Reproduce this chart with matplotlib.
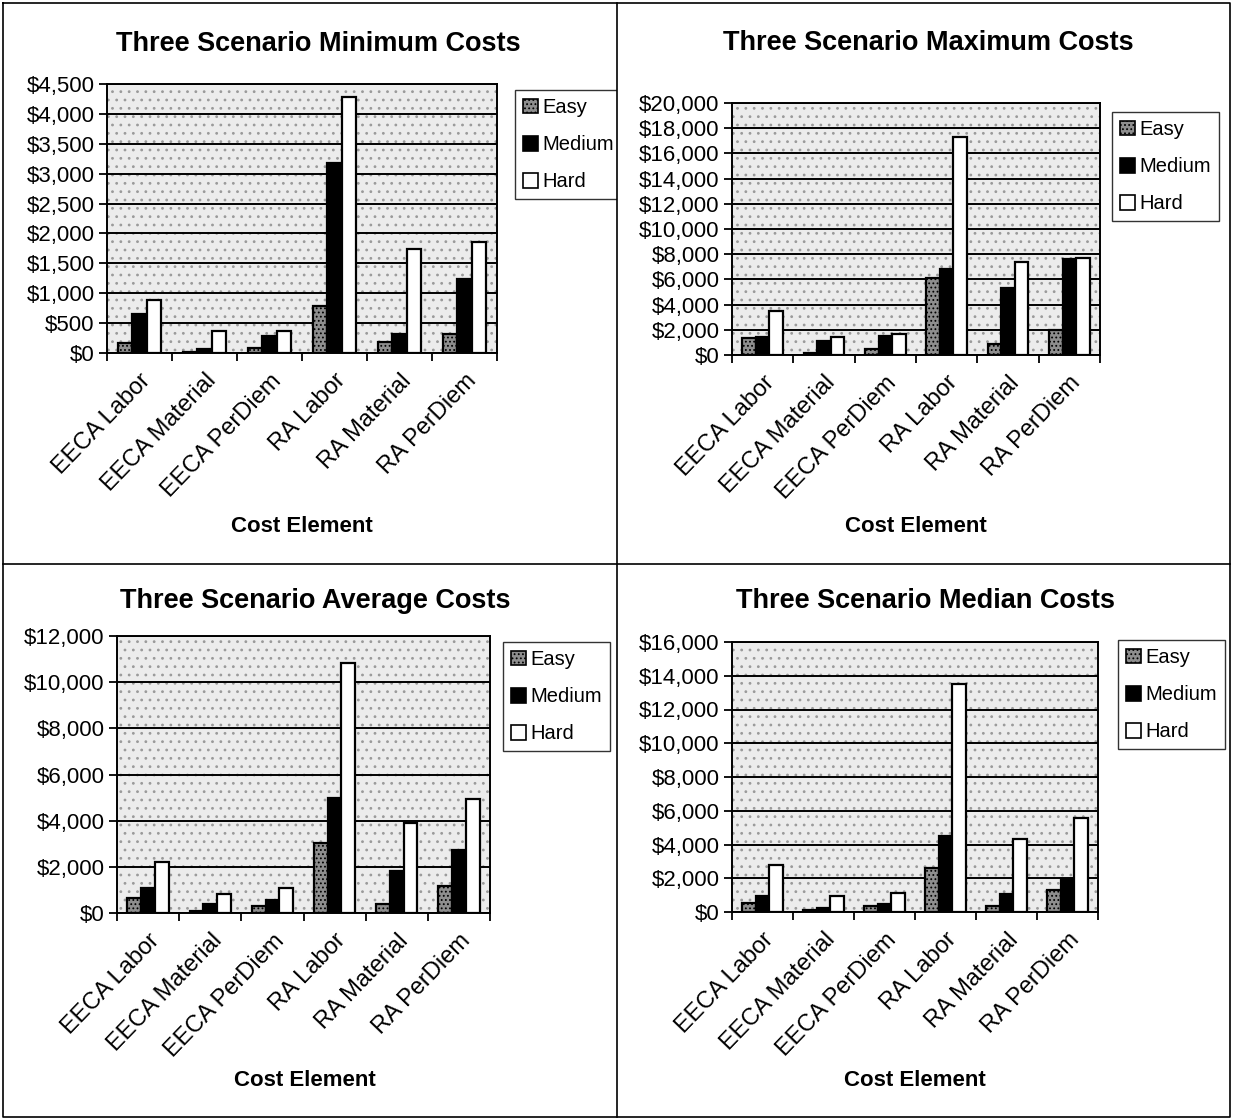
import numpy as np
import matplotlib
matplotlib.use('Agg')
import matplotlib.pyplot as plt
from matplotlib.patches import Rectangle, Patch
from matplotlib.ticker import FuncFormatter, FixedLocator
from matplotlib.transforms import ScaledTranslation

plt.rcParams['font.family'] = ['Liberation Sans', 'DejaVu Sans']
plt.rcParams['hatch.linewidth'] = 0.8

categories = ['EECA Labor', 'EECA Material', 'EECA PerDiem', 'RA Labor', 'RA Material', 'RA PerDiem']
scenarios = ['Easy', 'Medium', 'Hard']

# values (dollars)
min_easy = [170, 25, 80, 780, 180, 320]
min_medium = [660, 65, 280, 3180, 320, 1230]
min_hard = [880, 370, 370, 4280, 1740, 1860]

max_easy = [1320, 160, 450, 6090, 870, 1990]
max_medium = [1400, 1140, 1540, 6800, 5300, 7600]
max_hard = [3520, 1460, 1670, 17270, 7420, 7680]

avg_easy = [630, 100, 290, 3030, 400, 1150]
avg_medium = [1070, 400, 580, 4970, 1800, 2710]
avg_hard = [2190, 840, 1080, 10810, 3920, 4930]

med_easy = [530, 140, 340, 2630, 340, 1280]
med_medium = [950, 260, 450, 4500, 1050, 1980]
med_hard = [2800, 930, 1130, 13530, 4300, 5590]

titles = ['Three Scenario Minimum Costs', 'Three Scenario Maximum Costs',
          'Three Scenario Average Costs', 'Three Scenario Median Costs']
ymax = [4500, 20000, 12000, 16000]
ystep = [500, 2000, 2000, 2000]

fig = plt.figure(figsize=(12.33, 11.2), dpi=100)

# bar looks: easy = dark stipple, medium = black, hard = white
styles = [dict(facecolor='#8e8e8e', edgecolor='black', hatch='....'),
          dict(facecolor='black', edgecolor='black'),
          dict(facecolor='white', edgecolor='black')]


def DrawPanel(rect, series, title, top, step, title_xy, xlabel_xy, leg_xy):
    ax = fig.add_axes(rect)
    # stippled grey background
    ax.add_patch(Rectangle((0, 0), 1, 1, transform=ax.transAxes, facecolor='#ececec',
                           edgecolor='#9a9a9a', hatch='..', lw=0, zorder=0.1))
    ax.set_facecolor('white')
    x = np.arange(len(categories))
    w = 1 / 4.5
    for i, vals in enumerate(series):
        ax.bar(x + (i - 1) * w, vals, w, linewidth=1.6, zorder=3, **styles[i])
    ax.set_xlim(-0.5, len(categories) - 0.5)
    ax.set_ylim(0, top)
    ax.set_yticks(np.arange(0, top + 1, step))
    ax.yaxis.set_major_formatter(FuncFormatter(lambda v, p: '${:,.0f}'.format(v)))
    ax.yaxis.grid(True, color='black', linewidth=1.4)
    ax.set_axisbelow(True)
    ax.set_xticks(x)
    ax.set_xticklabels(categories, rotation=46, ha='right', rotation_mode='anchor', fontsize=17)
    shift = ScaledTranslation(-0.22, 0, fig.dpi_scale_trans)
    for lbl in ax.get_xticklabels():
        lbl.set_transform(lbl.get_transform() + shift)
    ax.xaxis.set_minor_locator(FixedLocator(np.arange(-0.5, len(categories), 1)))
    ax.tick_params(axis='x', which='major', length=0, pad=12)
    ax.tick_params(axis='x', which='minor', length=6, width=1.3, direction='out')
    ax.tick_params(axis='y', length=6, width=1.3, labelsize=16, pad=3)
    for s in ax.spines.values():
        s.set_linewidth(1.4)
    fig.text(title_xy[0] / 1233, 1 - title_xy[1] / 1120, title, ha='center', va='center',
             fontsize=19.5, fontweight='bold')
    fig.text(xlabel_xy[0] / 1233, 1 - xlabel_xy[1] / 1120, 'Cost Element', ha='center',
             va='center', fontsize=16, fontweight='bold')
    handles = [Patch(**styles[i], linewidth=1.2) for i in range(3)]
    leg = fig.legend(handles, scenarios, loc='upper left',
                     bbox_to_anchor=(leg_xy[0] / 1233, 1 - leg_xy[1] / 1120),
                     fontsize=14.5, frameon=True, fancybox=False, borderaxespad=0,
                     handlelength=0.75, handleheight=0.75, handletextpad=0.2,
                     labelspacing=0.9, borderpad=0.4)
    leg.get_frame().set_edgecolor('black')
    leg.get_frame().set_linewidth(1.0)
    return ax


DrawPanel([107 / 1233, 1 - 353 / 1120, 390 / 1233, 269 / 1120],
          [min_easy, min_medium, min_hard], titles[0], ymax[0], ystep[0],
          (318, 44), (302, 527), (515, 90))
DrawPanel([732 / 1233, 1 - 355 / 1120, 368 / 1233, 252 / 1120],
          [max_easy, max_medium, max_hard], titles[1], ymax[1], ystep[1],
          (928, 43), (916, 526), (1112, 112))
DrawPanel([117 / 1233, 1 - 913 / 1120, 373 / 1233, 277 / 1120],
          [avg_easy, avg_medium, avg_hard], titles[2], ymax[2], ystep[2],
          (315, 601), (305, 1080), (503, 642))
DrawPanel([732 / 1233, 1 - 912 / 1120, 366 / 1233, 270 / 1120],
          [med_easy, med_medium, med_hard], titles[3], ymax[3], ystep[3],
          (926, 601), (915, 1080), (1118, 640))

# the first legend runs into the divider, hide the part past it
fig.add_artist(Rectangle((617 / 1233, 1 - 215 / 1120), 16 / 1233, 135 / 1120,
                         transform=fig.transFigure, facecolor='white', edgecolor='none',
                         zorder=10))

# panel frames
for xs, ys in [([617, 617], [3, 1117]), ([3, 1230], [564, 564]),
               ([3, 1230, 1230, 3, 3], [3, 3, 1117, 1117, 3])]:
    fig.add_artist(plt.Line2D([v / 1233 for v in xs], [1 - v / 1120 for v in ys],
                              color='black', linewidth=1.2, zorder=11))

fig.savefig('out.png', dpi=100)
